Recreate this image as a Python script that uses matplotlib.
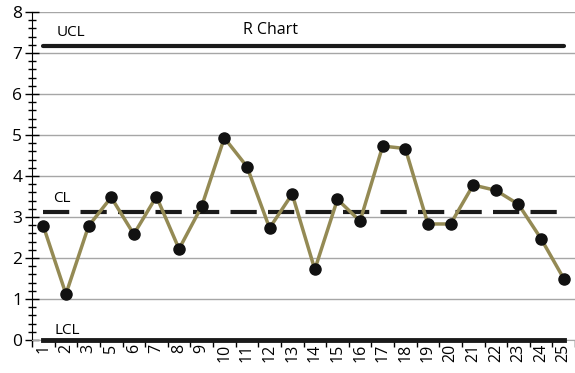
import matplotlib
matplotlib.use("Agg")
import matplotlib.pyplot as plt
import numpy as np
from matplotlib.ticker import MultipleLocator, FixedLocator

samples = ["1", "2", "3", "5", "6", "7", "8", "9", "10", "11", "12", "13",
           "14", "15", "16", "17", "18", "19", "20", "21", "22", "23", "24", "25"]
ranges = [2.78, 1.12, 2.78, 3.48, 2.58, 3.50, 2.22, 3.26, 4.93, 4.23, 2.73, 3.56,
          1.72, 3.43, 2.90, 4.73, 4.67, 2.83, 2.83, 3.78, 3.65, 3.31, 2.47, 1.50]
ucl = 7.17
cl = 3.13
lcl = 0.0

plt.rcParams['font.family'] = ['Open Sans', 'DejaVu Sans']

fig = plt.figure(figsize=(5.75, 3.73), dpi=100)
ax = fig.add_axes([32/575, 1 - 340/373, 1 - 32/575, (340 - 12)/373])

x = np.arange(1, len(samples) + 1)
n = len(samples)

ax.set_xlim(0.5, n + 0.5)
ax.set_ylim(0, 8)

ax.yaxis.set_major_locator(MultipleLocator(1))
ax.yaxis.set_minor_locator(MultipleLocator(0.2))
ax.grid(axis='y', which='major', color='#a6a6a6', linewidth=1)
ax.set_axisbelow(True)

ax.plot([1, n], [ucl, ucl], color='#1a1a1a', linewidth=3, solid_capstyle='round', zorder=3)
ax.plot([1, n], [cl, cl], color='#1a1a1a', linewidth=3, dashes=(6.3, 2.7), zorder=3)
ax.plot([1, n], [lcl, lcl], color='#1a1a1a', linewidth=3.5, zorder=3, clip_on=False)

ax.plot(x, ranges, color='#948a54', linewidth=2.5, marker='o', markersize=8,
        markerfacecolor='#111111', markeredgecolor='#111111', zorder=4)

ax.text(1.6, ucl + 0.15, "UCL", fontsize=11, va='bottom', ha='left')
ax.text(11.05, ucl + 0.2, "R Chart", fontsize=11.5, va='bottom', ha='center')
ax.text(1.45, cl + 0.15, "CL", fontsize=11, va='bottom', ha='left')
ax.text(1.5, 0.05, "LCL", fontsize=11, va='bottom', ha='left')

ax.set_xticks(x)
ax.set_xticklabels(samples, rotation=90, fontsize=11.5)
ax.xaxis.set_minor_locator(FixedLocator(np.arange(0.5, n + 1, 1)))
ax.tick_params(axis='x', which='major', length=0, pad=3)
ax.tick_params(axis='x', which='minor', length=5, width=1, color='black', direction='out')
ax.tick_params(axis='y', which='major', length=10, width=1, direction='inout', labelsize=12.5, pad=2)
ax.tick_params(axis='y', which='minor', length=6, width=1, direction='inout')

for s in ['top', 'right']:
    ax.spines[s].set_visible(False)
ax.spines['left'].set_color('black')
ax.spines['bottom'].set_color('#a6a6a6')

fig.savefig("out.png", dpi=100)
